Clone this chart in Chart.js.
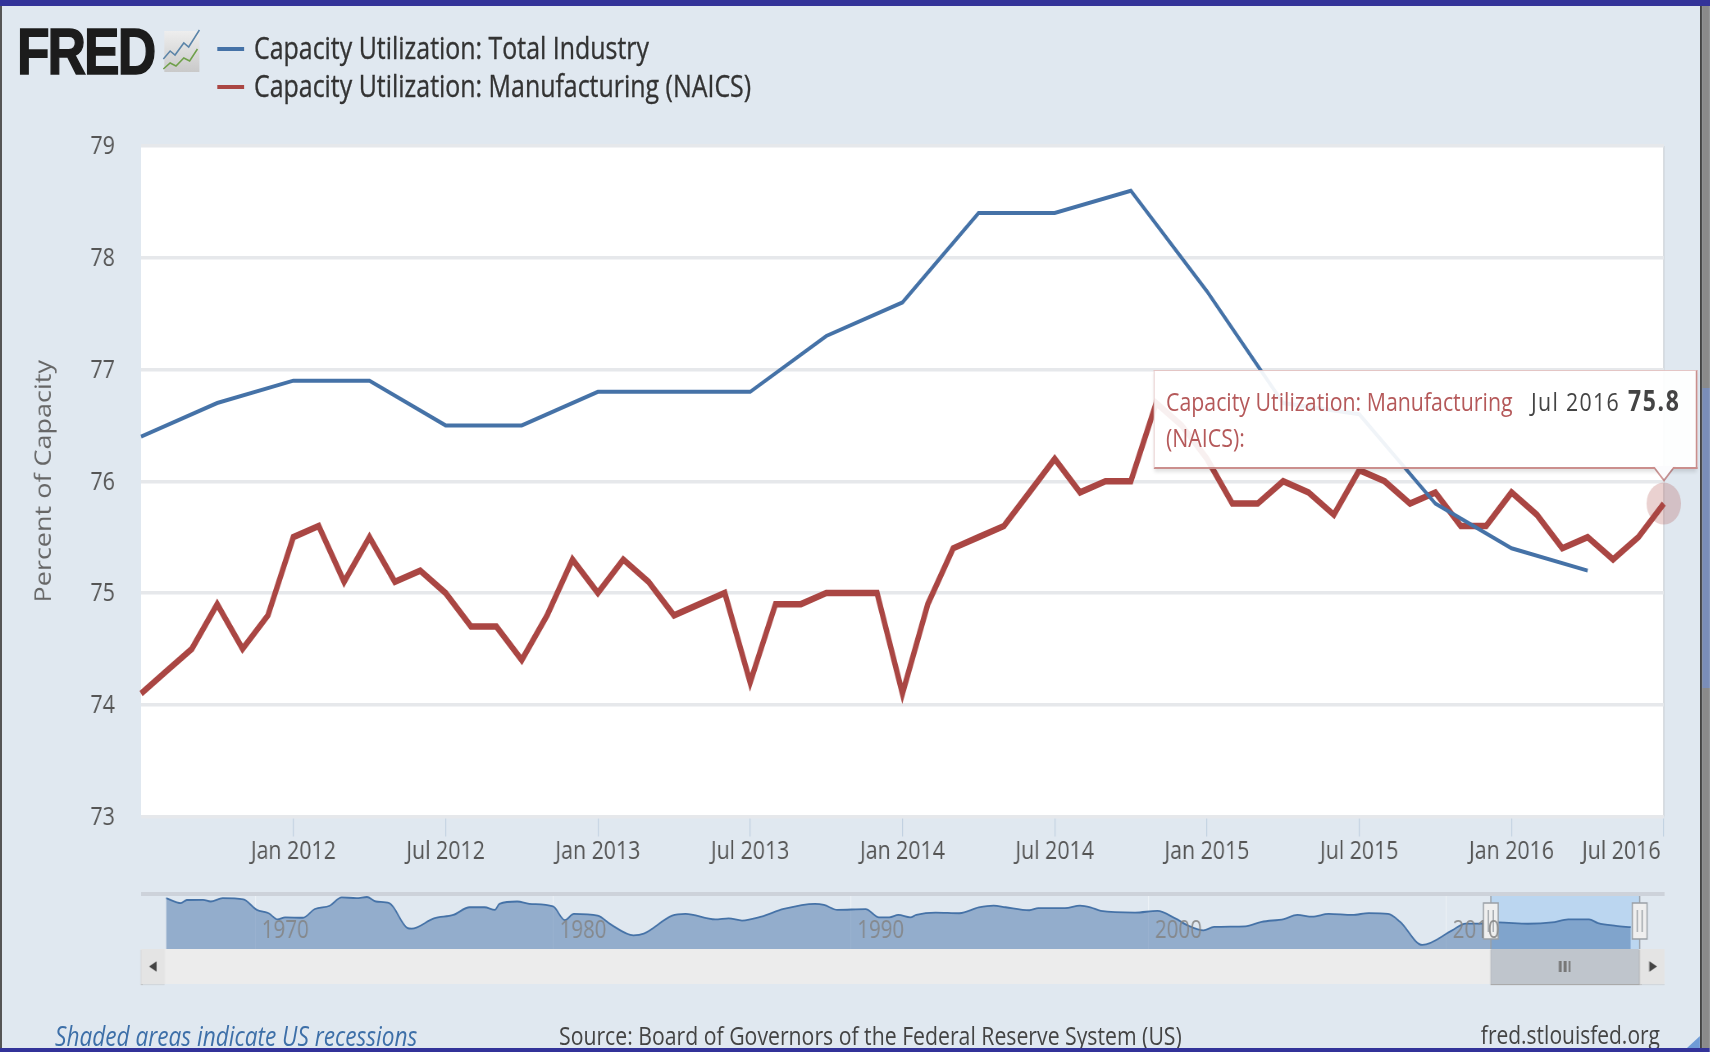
<!DOCTYPE html>
<html><head><meta charset="utf-8">
<script src="https://cdn.jsdelivr.net/npm/chart.js@4"></script>
<style>
html,body{margin:0;padding:0;background:#e0e8f0;overflow:hidden;width:1710px;height:1052px}
#page{position:absolute;left:0;top:0;width:2085.4px;height:1052px;transform:scaleX(.82);transform-origin:0 0;background:#e0e8f0;font-family:"Open Sans",sans-serif;filter:blur(.5px)}
#page div,#page span{white-space:nowrap}
canvas{position:absolute;left:0}
.a{position:absolute}
</style></head><body>
<div id="page">
<canvas id="main" style="top:0;width:2085px;height:900px"></canvas>
<canvas id="nav" style="top:880px;width:2085px;height:80px"></canvas>
</div>
<script>
// ---------- data ----------
const monthNames = ['Jan','Feb','Mar','Apr','May','Jun','Jul','Aug','Sep','Oct','Nov','Dec'];
const months = [];
for (let i = 0; i <= 60; i++) { const m = (6 + i) % 12, y = 2011 + Math.floor((6 + i) / 12); months.push(monthNames[m] + ' ' + y); }
const totalIndustryQuarterly = [76.4,76.7,76.9,76.9,76.5,76.5,76.8,76.8,76.8,77.3,77.6,78.4,78.4,78.6,77.7,76.7,76.6,75.8,75.4,75.2];
const manufacturing = [74.1,74.3,74.5,74.9,74.5,74.8,75.5,75.6,75.1,75.5,75.1,75.2,
  75.0,74.7,74.7,74.4,74.8,75.3,75.0,75.3,75.1,74.8,74.9,75.0,
  74.2,74.9,74.9,75.0,75.0,75.0,74.1,74.9,75.4,75.5,75.6,75.9,
  76.2,75.9,76.0,76.0,76.7,76.5,76.2,75.8,75.8,76.0,75.9,75.7,
  76.1,76.0,75.8,75.9,75.6,75.6,75.9,75.7,75.4,75.5,75.3,75.5,75.8];
const totalIndustry = months.map((_, i) => i % 3 === 0 && totalIndustryQuarterly[i / 3] !== undefined ? totalIndustryQuarterly[i / 3] : null);
const yTicks = [73,74,75,76,77,78,79];
const navYears = [1967,1967.5,1967.7,1968.25,1968.5,1968.9,1969.6,1970.05,1970.45,1970.75,1971,1971.6,1972,1972.5,1972.9,1973.4,1973.75,1974.05,1974.5,1975.1,1975.25,1976,1976.65,1977.2,1977.7,1978.05,1978.2,1978.8,1979.2,1980,1980.4,1980.7,1981.5,1981.95,1982.7,1983.05,1984,1984.45,1985.45,1985.9,1986.35,1987,1987.75,1988.8,1989.1,1989.55,1990.5,1990.95,1991.3,1991.6,1992,1992.2,1992.85,1993.65,1994.3,1994.8,1995.2,1996,1996.3,1997.2,1997.7,1998.05,1998.4,1999.55,2000.3,2000.9,2001.35,2001.85,2002.2,2003.25,2003.8,2004.55,2005,2005.5,2006.05,2006.85,2007.4,2008.05,2008.45,2009.2,2010.2,2010.65,2011.2,2011.75,2012.75,2013.55,2014.1,2014.8,2015.1,2015.7,2016.2];
const navValues = [88.5,86.1,87.6,87.7,86.9,88.5,87.9,83,81.4,78.5,79.5,79.3,83.4,84.9,88.8,88.5,89,86.9,86.1,74.6,74.2,79,80.6,84.2,84.2,83,85.8,86.9,85.8,84.6,78.2,81.1,80.3,76.1,71.1,71.9,80.3,81.1,78.5,79,78,79.8,83.4,85.8,85.3,83,83.3,79.5,79.5,80.6,79.5,80.6,81.7,81.4,84.1,85,84.2,82.8,83.8,83.8,85,84.2,82.5,81.7,82.5,79,75.5,73.4,75,75.3,77.4,78.7,80.6,79.8,81.1,80.6,81.5,81.1,77.4,66.6,73.4,76.6,76.6,77.1,76.5,77.1,78.5,78.5,76.8,75.5,74.9];
const navTickYears = [1970,1980,1990,2000,2010];
const navSelection = [2011.5,2016.5];
const seriesNames = ['Capacity Utilization: Total Industry','Capacity Utilization: Manufacturing (NAICS)'];
const BLUE = '#4572a7', RED = '#aa4643', FONT = '"Open Sans",sans-serif';

// ---------- main chart ----------
const plotFrame = { id:'plotFrame',
  beforeDraw(c){ const a=c.chartArea,x=c.ctx; x.save(); x.fillStyle='#fff'; x.fillRect(a.left,a.top,a.width,a.height);
    x.strokeStyle='#ccd1d6'; x.lineWidth=1.5; x.beginPath(); x.moveTo(a.right,a.top); x.lineTo(a.right,a.bottom); x.stroke(); x.restore();
    const s=c.scales.x, items=s.getLabelItems(a), last=items[items.length-1];
    if(last){ last.options.textAlign='right'; last.options.translation=[a.right-4,last.options.translation[1]]; } } };
new Chart(document.getElementById('main'),{
  type:'line',
  data:{labels:months,datasets:[
    {label:seriesNames[0],data:totalIndustry,borderColor:BLUE,borderWidth:4,spanGaps:true,pointRadius:0,tension:0,borderJoinStyle:'miter'},
    {label:seriesNames[1],data:manufacturing,borderColor:RED,borderWidth:6.5,pointRadius:c=>c.dataIndex===60?21:0,pointHoverRadius:21,
      pointBackgroundColor:'rgba(170,70,67,.25)',pointBorderWidth:0,tension:0,clip:false,borderJoinStyle:'miter'}
  ]},
  plugins:[plotFrame],
  options:{responsive:false,animation:false,events:[],
    layout:{padding:{left:0,right:56,top:146,bottom:25}},
    plugins:{legend:{display:false},tooltip:{enabled:false}},
    scales:{
      x:{type:'category',offset:false,
        grid:{drawOnChartArea:false,drawTicks:true,tickLength:20,color:'#c0d0e0',lineWidth:1.2},border:{display:false},
        afterBuildTicks:s=>{s.ticks=s.ticks.filter(t=>t.value>0&&/^(Jan|Jul)/.test(months[t.value]));},
        afterFit:s=>{s.height=58.5;},
        ticks:{autoSkip:false,maxRotation:0,padding:-1,color:'#555',font:{family:FONT,size:26}}},
      y:{min:73,max:79,
        afterBuildTicks:s=>{s.ticks=yTicks.map(v=>({value:v}));},
        afterFit:s=>{s.width=172;},
        grid:{color:'#e6e8eb',lineWidth:3.5,drawTicks:false},border:{display:false},
        title:{display:true,text:'Percent of Capacity',color:'#666',font:{family:FONT,size:27},padding:{top:38,bottom:0}},
        ticks:{padding:32,labelOffset:1,color:'#555',font:{family:FONT,size:26}}}
    }}});

// ---------- navigator chart ----------
const navBand = { id:'navBand',
  beforeDatasetsDraw(c){ const s=c.scales.x,a=c.chartArea,x=c.ctx,l=s.getPixelForValue(navSelection[0]),r=s.getPixelForValue(navSelection[1]);
    x.save(); x.fillStyle='rgba(150,195,240,.5)'; x.fillRect(l,a.top,r-l,a.height); x.restore(); },
  afterDraw(c){ const s=c.scales.x,a=c.chartArea,x=c.ctx;
    x.save();
    navSelection.forEach(v=>{ const p=s.getPixelForValue(v);
      x.strokeStyle='#9aa0a6'; x.lineWidth=1.5; x.beginPath(); x.moveTo(p,a.top); x.lineTo(p,a.bottom); x.stroke();
      x.fillStyle='#efefef'; x.fillRect(p-9,a.top+9,18,36); x.strokeRect(p-9,a.top+9,18,36);
      x.beginPath(); [-3,3].forEach(d=>{x.moveTo(p+d,a.top+16);x.lineTo(p+d,a.top+38);}); x.stroke(); });
    x.font='25px '+FONT; x.fillStyle='rgba(130,130,130,.85)'; x.textAlign='left'; x.textBaseline='middle';
    navTickYears.forEach(v=>x.fillText(String(v),s.getPixelForValue(v)+8,a.bottom-18));
    x.restore(); } };
new Chart(document.getElementById('nav'),{
  type:'line',
  data:{datasets:[{label:seriesNames[0],data:navYears.map((y,i)=>({x:y,y:navValues[i]})),borderColor:'#4572a7',borderWidth:1.8,pointRadius:0,tension:0.25,cubicInterpolationMode:'monotone',fill:'start',backgroundColor:'rgba(69,114,167,.5)'}]},
  plugins:[navBand],
  options:{responsive:false,animation:false,events:[],
    layout:{padding:{left:202.4,right:85.4,top:14,bottom:11}},
    plugins:{legend:{display:false},tooltip:{enabled:false}},
    scales:{
      x:{type:'linear',min:1967,max:2016.5,
        afterBuildTicks:s=>{s.ticks=navTickYears.map(v=>({value:v}));},
        afterFit:s=>{s.height=0;},
        grid:{color:'rgba(255,255,255,.4)',lineWidth:1.2,drawTicks:false},border:{display:false},
        ticks:{display:false}},
      y:{display:false,min:64.7,max:90.4}
    }}});

// ---------- page furniture (x given in picture pixels, converted to the squeezed page) ----------
const K=.82, page=document.getElementById('page');
function el(x,y,w,h,css,html){ const d=document.createElement('div'); d.className='a';
  d.style.cssText=`left:${x/K}px;top:${y}px;`+(w!=null?`width:${w/K}px;`:'')+(h!=null?`height:${h}px;`:'')+(css||''); if(html)d.innerHTML=html; page.appendChild(d); return d; }

// logo
el(17,22,null,60,'font:900 65px/60px "Liberation Sans",sans-serif;color:#1c1c1c;-webkit-text-stroke:1.5px #1c1c1c;letter-spacing:-2.4px','FRED');
el(162,29,39,44,'', `<svg width="100%" height="100%" viewBox="0 0 40 44" preserveAspectRatio="none"><defs><linearGradient id="g" x1="0" y1="0" x2="0" y2="1"><stop offset="0" stop-color="#eeeeee"/><stop offset="1" stop-color="#c9c9c9"/></linearGradient></defs><rect x="2" y="2" width="36" height="41" fill="url(#g)"/><polyline points="1,30 8,22 13,26 22,14 27,18 38,1" fill="none" stroke="#5b84a8" stroke-width="1.6"/><polyline points="1,40 8,34 14,37 22,29 28,32 36,20" fill="none" stroke="#6fa04a" stroke-width="1.6"/></svg>`);

// legend
const legendFont='font:30.4px/34px '+FONT+';color:#333;-webkit-text-stroke:.35px #333;';
el(217,46.5,27,4,'background:'+BLUE);
el(254,31,null,34,legendFont,seriesNames[0]);
el(217,85,27,4,'background:'+RED);
el(254,69,null,34,legendFont,seriesNames[1]);

// tooltip
el(1652,466,24,16,'background:rgba(170,70,67,.55);clip-path:polygon(0 0,100% 0,50% 100%)');
el(1154,370,543,99,'box-sizing:border-box;background:rgba(255,255,255,.92);border:1px solid rgba(170,70,67,.3);border-bottom:2.5px solid rgba(170,70,67,.6);border-right:2px solid rgba(170,70,67,.6);box-shadow:0 3px 4px rgba(0,0,0,.12)');
el(1654,466,20,13,'background:#fbfbfd;clip-path:polygon(0 0,100% 0,50% 100%)');
el(1166,383,null,36,'font:26px/36px '+FONT+';color:#b5595a','Capacity Utilization: Manufacturing');
el(1166,419,null,36,'font:26px/36px '+FONT+';color:#b5595a','(NAICS):');
el(1531,383,null,36,'font:26px/36px '+FONT+';color:#444;letter-spacing:1.6px','Jul 2016');
el(1628,382,null,36,'font:700 28px/36px '+FONT+';color:#444;letter-spacing:2px','75.8');

// navigator top rule and scrollbar
el(141,892,1524,4,'background:#cdd2da');
el(141,949,1524,35,'background:#ececec');
el(141,949,24,35,'background:#e4e4e4;box-shadow:0 1px 1px #bbb');
el(149,961,8,11,'background:#444;clip-path:polygon(100% 0,100% 100%,0 50%)');
el(1490.5,949,149,35,'background:#bfc5cc;box-shadow:0 1px 1px #aaa');
el(1559,961,11,11,'background:repeating-linear-gradient(90deg,#777 0 3px,transparent 3px 6px)');
el(1640,949,25,35,'background:#e4e4e4;box-shadow:0 1px 1px #bbb');
el(1649,961,8,11,'background:#444;clip-path:polygon(0 0,100% 50%,0 100%)');

// footer
el(55,1018,null,34,'font:italic 27.6px/34px '+FONT+';color:#3d6fa8','Shaded areas indicate US recessions');
el(559,1018,null,34,'font:25.9px/34px '+FONT+';color:#444','Source: Board of Governors of the Federal Reserve System (US)');
el(1460,1018,200,34,'font:25.6px/34px '+FONT+';color:#444;text-align:right','fred.stlouisfed.org');
el(1687,1036,13,12,'background:#6f9bd6;clip-path:polygon(100% 0,100% 100%,0 100%)');

// window chrome
el(0,0,1710,6,'background:#333399');
el(0,1048,1710,4,'background:#333399');
el(0,6,1.5,1042,'background:#555');
el(1700,6,2,1042,'background:#444');
el(1702,6,8,382,'background:#8a8a8a');
el(1702,388,8,300,'background:#7a8db8');
el(1702,688,8,360,'background:#8a8a8a');
</script>
</body></html>
